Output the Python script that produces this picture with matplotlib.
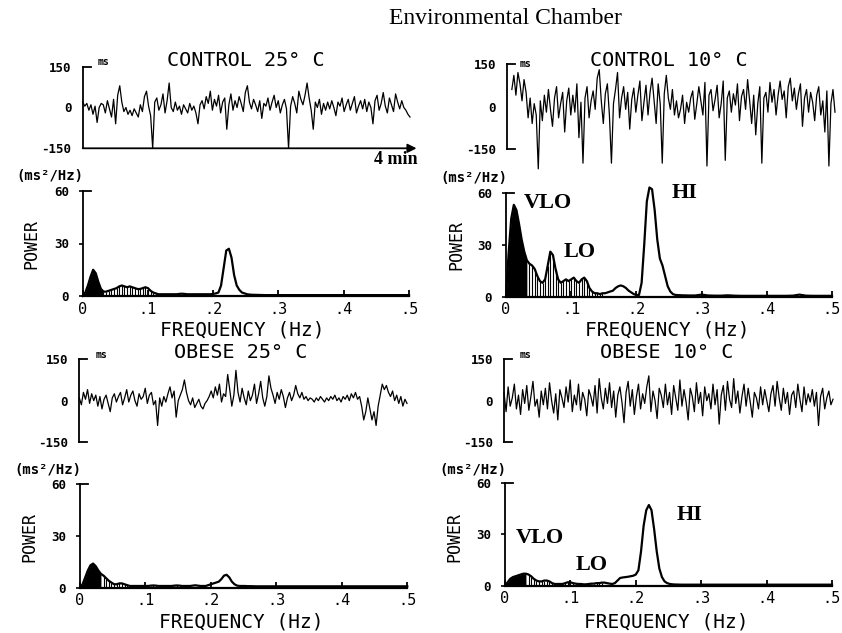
import numpy as np
import matplotlib
matplotlib.use("Agg")
import matplotlib.pyplot as plt
from matplotlib.transforms import blended_transform_factory

W, H = 842, 633
MONO = "DejaVu Sans Mono"
SERIF = "Liberation Serif"

# R-R interval deviation traces (ms), 4 min each
control25 = [20, 5, 15, -10, 10, -25, 5, -55, 0, 15,
             10, -20, 25, -5, -35, 30, -60, 45, 80, 20,
             -15, 0, -25, -10, -30, -5, -20, -35, 10, -15,
             40, 60, 5, -30, -150, 20, 35, -10, 10, 50,
             -20, 25, 90, 0, -15, 20, -10, 5, -25, 10,
             -5, -20, 15, -10, 5, -20, -60, 10, 25, -5,
             40, 15, 60, -10, 30, 5, 45, -20, 20, 35,
             -80, 10, 50, -10, 25, 0, 40, 15, -15, 55,
             80, 20, -5, 30, 10, -15, 25, -40, 15, 5,
             35, -10, 20, 45, 0, 25, -20, 10, 30, -5,
             -150, 5, 40, 15, -20, 60, 30, 10, 45, 90,
             35, -10, -80, 20, 0, 30, -25, 15, -10, 20,
             -5, 25, 0, -30, 20, 5, 35, -15, 10, 30,
             -10, 15, 40, -20, 5, 25, -5, 30, -15, 20,
             0, -60, 25, 45, -10, 15, 55, 5, -20, 35,
             10, -15, 50, 20, -5, 25, 0, -10, -25, -35]

control10 = [60, 110, 40, 120, 80, 20, 95, 50, -40, 30,
             -60, 10, -30, -220, 20, -50, 40, -20, 60, -10,
             -70, 30, 70, -40, 10, 50, -90, 20, 65, -30,
             40, -20, 80, -110, 15, -200, 30, 70, -40, 20,
             55, -10, 100, 130, 20, -60, 45, 80, -30, -200,
             10, 60, 120, -40, 30, 70, -10, 50, -80, 25,
             65, -20, 40, 90, -50, 15, 75, -30, 50, 100,
             20, -60, 80, 10, -200, 45, 110, 30, -10, 60,
             -30, 20, -40, -10, 40, -60, 15, -20, 30, 55,
             -45, 10, 70, 20, -30, 85, -210, 40, 60, -15,
             25, 75, -40, 10, 90, -190, 30, 55, -20, 45,
             5, 80, -50, 35, 60, -10, 95, 20, -60, 40,
             -100, 10, 70, -200, 30, 50, -20, 85, 15, 60,
             -30, 40, 90, 25, 55, -40, 70, 100, 20, 65,
             -10, 45, 80, -70, 30, 60, -20, 50, 15, -50,
             40, 70, -30, 20, -90, 55, -210, 10, 60, -20]

obese25 = [10, -15, 30, 5, 40, -10, 25, 0, 20, -20,
           15, -30, 5, 20, -10, -40, 10, 25, -5, 15,
           30, -15, 10, 40, -5, 20, 35, 0, -20, 25,
           5, 15, 45, -10, 20, 30, -15, 0, -90, 10,
           -20, 15, -5, 25, 50, 10, 35, -60, 0, 20,
           40, 75, 30, 0, -15, 10, -25, -10, 5, -20,
           -30, -10, 0, 15, 35, 10, 50, 20, 60, -5,
           25, 15, 95, 40, -20, 20, 110, 30, -5, 45,
           10, -15, 35, 0, 20, 60, -10, 25, 70, 10,
           -20, 15, 90, 45, 20, -10, 30, 5, 40, 15,
           -25, 10, 30, 0, 20, 55, 25, 10, 30, 5,
           15, 0, 10, 5, -5, 10, 0, 15, 5, -5,
           10, 0, 15, 5, 20, 0, 10, -5, 15, 5,
           20, 0, 25, 10, 30, 5, 15, -20, -70, -40,
           10, -30, -70, -40, -90, -20, 20, 60, 40, 55,
           30, 15, 35, 0, 20, -10, 15, -20, 5, -10]

obese10 = [30, -40, 50, -20, 10, 60, -30, 20, -50, 40,
           -10, 55, -35, 15, 70, -20, 5, -60, 35, -15,
           45, -30, 65, 0, -45, 25, -70, 40, 10, -25,
           50, -5, 75, -40, 20, -15, 60, -35, 30, 5,
           -55, 40, 15, -20, 55, -45, 80, 10, -30, 45,
           -10, 65, -25, 35, -60, 20, 50, -5, -80, 30,
           70, -20, 40, -50, 15, 60, -30, 25, -10, 50,
           90, -40, 35, 0, -65, 45, 20, -25, 60, -15,
           30, -50, 55, 10, -35, 75, -20, 40, -5, -70,
           45, 15, -40, 65, -10, 30, -55, 50, 0, 25,
           -30, 60, -15, 40, -85, 20, 55, -35, 70, 5,
           -25, 80, -10, 35, -45, 15, 60, -20, 45, -5,
           -60, 30, 10, -30, 50, -15, 40, 0, -40, 25,
           55, -20, 70, 10, -35, 45, -10, 30, -50, 20,
           35, -25, 60, 5, -40, 50, -15, 25, -5, 40,
           -20, 30, -90, 15, 45, -30, 10, 35, -15, 5]

# power spectra (ms^2/Hz): 0.004 Hz steps to 0.26, then 0.01 Hz steps to 0.5
freq = np.concatenate([np.arange(66) * 0.004, np.arange(27, 51) * 0.01])

p_control25 = [0, 2, 6, 11, 15, 13, 8, 4, 2.5, 2.5,
               3, 3.5, 4, 4.5, 5.5, 6, 5.5, 5, 5.5, 5,
               4.5, 4, 4, 4.5, 5, 4.5, 3, 2, 1.5, 1,
               1, 1, 1, 1, 1, 1, 1, 1.2, 1.3, 1.2,
               1, 1, 1, 1, 1, 1, 1, 1, 1, 1,
               1.2, 1.5, 2, 6, 16, 26, 27, 22, 12, 6,
               3.5, 2, 1.5, 1, 0.8, 0.7,
               0.6, 0.5, 0.5, 0.5, 0.5, 0.5, 0.5, 0.5, 0.5, 0.5, 0.5, 0.5,
               0.5, 0.5, 0.5, 0.5, 0.5, 0.5, 0.5, 0.5, 0.5, 0.5, 0.5, 0.5]

p_control10 = [0, 25, 45, 53, 50, 42, 33, 26, 21, 19,
               18, 16, 12, 9, 8, 10, 18, 26, 24, 16,
               10, 8, 9, 10, 9, 10, 11, 9, 8, 10,
               11, 9, 5, 3, 2, 2, 1.5, 2, 2, 2.5,
               3, 3.5, 5, 6, 6.5, 6, 5, 3.5, 2.5, 1.5,
               1, 1, 8, 30, 55, 63, 62, 50, 33, 22,
               18, 12, 6, 3, 1.5, 1,
               0.8, 0.7, 0.7, 1.2, 0.7, 0.6, 0.6, 0.8, 0.6, 0.5, 0.5, 0.5,
               0.5, 0.5, 0.5, 0.5, 0.5, 0.6, 1.2, 0.6, 0.5, 0.5, 0.5, 0.5]

p_obese25 = [0, 2, 6, 10, 13, 14, 12.5, 10, 8, 7,
             5.5, 4, 3, 2, 2, 2.5, 2.5, 2, 1.5, 1,
             1, 1, 1, 1, 1, 1, 1, 1.2, 1.3, 1.2,
             1, 1, 1, 1, 1, 1, 1.2, 1.3, 1.2, 1,
             1, 1, 1, 1.2, 1.4, 1.2, 1, 1, 1, 1.5,
             2, 2.5, 3, 3.5, 5, 7, 7.5, 6, 3.5, 2,
             1.2, 1, 1, 1, 0.9, 0.9,
             0.8, 0.8, 0.8, 0.8, 0.8, 0.8, 0.8, 0.8, 0.8, 0.8, 0.8, 0.8,
             0.8, 0.8, 0.8, 0.8, 0.8, 0.8, 0.8, 0.8, 0.8, 0.8, 0.8, 0.8]

p_obese10 = [0, 2, 4, 5, 5.5, 6, 6.5, 7, 7, 6.5,
             5.5, 4, 3, 2.5, 2.5, 3, 3, 2.5, 1.5, 1,
             1, 1, 1, 1.5, 2, 2, 1.5, 1.2, 1, 1,
             0.8, 0.8, 1, 1.2, 1.2, 1.5, 1.5, 1.8, 1.8, 1.5,
             1.2, 1, 1.5, 3, 4.5, 4.8, 5, 5.2, 5.5, 5.8,
             6.5, 9, 20, 35, 44, 47, 44, 33, 20, 10,
             5, 2.5, 1.5, 1, 0.8, 0.7,
             0.6, 0.6, 0.6, 0.6, 0.6, 0.6, 0.6, 0.6, 0.6, 0.6, 0.6, 0.6,
             0.6, 0.6, 0.6, 0.6, 0.6, 0.6, 0.6, 0.6, 0.6, 0.6, 0.6, 0.6]

VLO_EDGE = 0.036
LO_EDGE = 0.148


def rect(l, t, r, b):
    return [l / W, 1 - b / H, (r - l) / W, (b - t) / H]


def ftext(x, y, s, **kw):
    fig.text(x / W, 1 - y / H, s, ha="center", va="center", **kw)


def trace_panel(box, values, title, tpos, mspos, arrow=False, x0=0.0):
    ax = fig.add_axes(rect(*box))
    t = np.linspace(0, 4, len(values))
    ax.plot(t, values, color="black", lw=0.9, clip_on=False)
    ax.set_xlim(x0, 4)
    ax.set_ylim(-150, 150)
    for s in ["top", "right", "bottom"]:
        ax.spines[s].set_visible(False)
    ax.spines["left"].set_linewidth(1.3)
    ax.set_xticks([])
    ax.set_yticks([-150, 0, 150])
    ax.set_yticklabels(["-150", "0", "150"], fontfamily=MONO,
                       fontweight="bold", fontsize=9)
    ax.tick_params(axis="y", length=0, pad=8)
    tr = blended_transform_factory(ax.transAxes, ax.transData)
    ax.plot([0, 0.025], [150, 150], color="black", lw=1.3, transform=tr,
            clip_on=False)
    if arrow:
        ax.annotate("", xy=(1.02, -150), xytext=(0, -150), xycoords=tr,
                    textcoords=tr,
                    arrowprops=dict(arrowstyle="-|>", color="black", lw=1.3,
                                    mutation_scale=13, shrinkA=0, shrinkB=0))
    else:
        ax.plot([0, 0.025], [-150, -150], color="black", lw=1.3,
                transform=tr, clip_on=False)
    ftext(*tpos, title, fontfamily=MONO, fontsize=14.5)
    ftext(*mspos, "ms", fontfamily=MONO, fontsize=7, fontweight="bold")
    return ax


def spectrum_panel(box, power, fpos, ppos, upos):
    ax = fig.add_axes(rect(*box))
    f = freq
    p = np.array(power)
    vlo = f <= VLO_EDGE
    lo = (f > VLO_EDGE) & (f <= LO_EDGE)
    ax.fill_between(f, 0, p, where=vlo, color="black", lw=0)
    ax.vlines(f[lo], 0, p[lo], color="black", lw=0.8)
    ax.plot(f, p, color="black", lw=1.6, clip_on=False)
    ax.set_xlim(0, 0.5)
    ax.set_ylim(0, 60)
    for s in ["top", "right"]:
        ax.spines[s].set_visible(False)
    ax.spines["left"].set_linewidth(1.3)
    ax.spines["bottom"].set_linewidth(1.6)
    ax.set_xticks([0, 0.1, 0.2, 0.3, 0.4, 0.5])
    ax.set_xticklabels(["0", ".1", ".2", ".3", ".4", ".5"], fontfamily=MONO,
                       fontsize=11)
    ax.tick_params(axis="x", direction="in", length=4, width=1.3, pad=4)
    ax.set_yticks([0, 30, 60])
    ax.set_yticklabels(["0", "30", "60"], fontfamily=MONO,
                       fontweight="bold", fontsize=9)
    ax.tick_params(axis="y", direction="out", length=3, width=1.2, pad=7)
    tr = blended_transform_factory(ax.transAxes, ax.transData)
    ax.plot([0, 0.025], [60, 60], color="black", lw=1.3, transform=tr,
            clip_on=False)
    ftext(*fpos, "FREQUENCY (Hz)", fontfamily=MONO, fontsize=14)
    ftext(*ppos, "POWER", fontfamily=MONO, fontsize=12, rotation=90)
    ftext(*upos, "(ms²/Hz)", fontfamily=MONO, fontsize=10, fontweight="bold")
    return ax


fig = plt.figure(figsize=(W / 100, H / 100), dpi=100)

ftext(505, 18, "Environmental Chamber", fontfamily=SERIF, fontsize=17)

trace_panel((82.7, 66.7, 410, 148.3), control25, "CONTROL 25° C", (246, 60),
            (104, 62), arrow=True)
ftext(396, 160, "4 min", fontfamily=SERIF, fontsize=13, fontweight="bold")
trace_panel((507, 64, 835, 149), control10, "CONTROL 10° C", (669, 60),
            (526, 64), x0=-0.06)
trace_panel((79.3, 359.3, 407, 442), obese25, "OBESE 25° C", (241, 352),
            (101, 355))
trace_panel((504, 359.3, 833, 442), obese10, "OBESE 10° C", (667, 352),
            (525, 355))

spectrum_panel((82.7, 191, 409, 296), p_control25, (242, 330), (31, 244),
               (50, 176))
spectrum_panel((506, 192.7, 832, 296.7), p_control10, (667, 330), (456, 245),
               (474, 178))
spectrum_panel((80, 484.3, 407.3, 587.7), p_obese25, (241, 622), (29, 537),
               (48, 470))
spectrum_panel((505, 482.7, 832, 585.7), p_obese10, (666, 622), (454, 537),
               (473, 470))

bold_serif = dict(fontfamily=SERIF, fontsize=16, fontweight="bold")
ftext(548, 203, "VLO", **bold_serif)
ftext(580, 252, "LO", **bold_serif)
ftext(685, 193, "HI", **bold_serif)
ftext(540, 538, "VLO", **bold_serif)
ftext(592, 565, "LO", **bold_serif)
ftext(690, 515, "HI", **bold_serif)

fig.savefig("out.png", dpi=100)
